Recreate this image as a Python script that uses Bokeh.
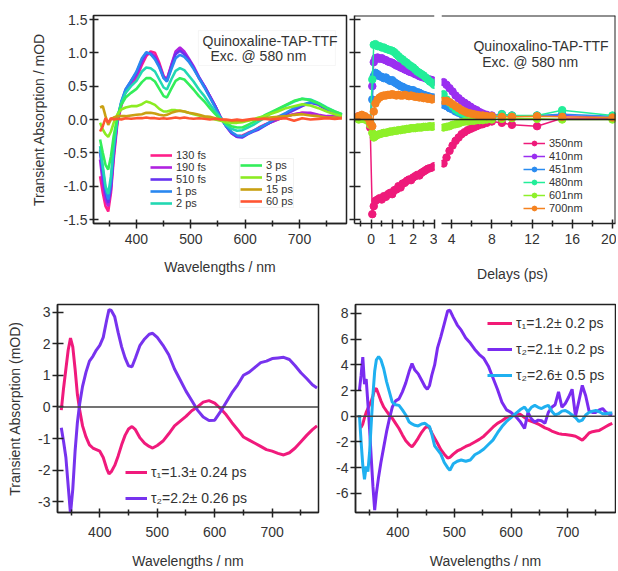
import numpy as np
from bokeh.plotting import figure
from bokeh.layouts import column, row
from bokeh.models import (Range1d, FixedTicker, Span, Label, Legend, LegendItem,
                          PrintfTickFormatter, BoxAnnotation)
from bokeh.embed import file_html
from bokeh.resources import INLINE

FONT = "Liberation Sans"
TXT = "#333333"
AX = "#222222"

# ------------------------------------------------------------------ data
# Panel A: transient spectra (mOD) at several delays
wl_a = [333, 338, 343, 348, 353, 358, 365, 372, 380, 390, 400, 410, 418, 426, 434, 442, 450, 456,
        464, 472, 480, 488, 496, 505, 515, 525, 535, 545, 555, 565, 575, 585, 595, 605, 615, 625,
        635, 645, 660, 675, 690, 705, 720, 735, 750, 765, 778]
s130fs = [-0.85, -1.1, -1.3, -1.38, -1.1, -0.6, -0.05, 0.2, 0.42, 0.52, 0.62, 0.82, 0.95, 1.02, 1.0,
          0.85, 0.65, 0.6, 0.8, 1.0, 1.06, 1.0, 0.9, 0.78, 0.62, 0.5, 0.35, 0.2, 0.03, -0.1, -0.2,
          -0.25, -0.24, -0.2, -0.17, -0.12, -0.08, -0.05, 0.0, 0.05, 0.08, 0.1, 0.09, 0.06, 0.03, 0.05, 0.05]
s190fs = [-0.6, -0.95, -1.2, -1.3, -1.05, -0.55, 0.0, 0.22, 0.42, 0.55, 0.66, 0.86, 0.98, 1.0, 0.95,
          0.82, 0.64, 0.6, 0.82, 1.02, 1.08, 1.02, 0.92, 0.8, 0.64, 0.5, 0.35, 0.2, 0.03, -0.1, -0.21,
          -0.26, -0.26, -0.21, -0.17, -0.13, -0.09, -0.05, 0.0, 0.05, 0.08, 0.1, 0.1, 0.07, 0.05, 0.05, 0.05]
s510fs = [-0.5, -0.8, -1.1, -1.25, -1.0, -0.5, 0.0, 0.25, 0.45, 0.58, 0.7, 0.9, 1.0, 0.98, 0.92,
          0.8, 0.63, 0.58, 0.78, 0.98, 1.03, 0.98, 0.9, 0.78, 0.63, 0.5, 0.35, 0.2, 0.03, -0.1, -0.2,
          -0.26, -0.27, -0.22, -0.18, -0.15, -0.1, -0.05, 0.02, 0.08, 0.14, 0.2, 0.25, 0.22, 0.15, 0.1, 0.06]
s1ps = [-0.45, -0.75, -1.05, -1.2, -0.95, -0.45, 0.02, 0.27, 0.45, 0.58, 0.72, 0.92, 1.01, 0.98, 0.9,
        0.78, 0.62, 0.57, 0.75, 0.92, 0.97, 0.94, 0.87, 0.76, 0.62, 0.48, 0.33, 0.18, 0.02, -0.1, -0.19,
        -0.24, -0.25, -0.21, -0.17, -0.13, -0.09, -0.04, 0.04, 0.1, 0.17, 0.22, 0.26, 0.24, 0.17, 0.11, 0.07]
s2ps = [-0.4, -0.7, -1.0, -1.12, -0.85, -0.4, 0.02, 0.25, 0.4, 0.5, 0.58, 0.72, 0.78, 0.77, 0.72,
        0.6, 0.48, 0.45, 0.6, 0.73, 0.77, 0.74, 0.66, 0.57, 0.45, 0.35, 0.23, 0.12, 0.02, -0.08, -0.14,
        -0.17, -0.16, -0.12, -0.08, -0.03, 0.02, 0.08, 0.15, 0.21, 0.27, 0.31, 0.3, 0.25, 0.18, 0.12, 0.08]
s3ps = [-0.3, -0.5, -0.68, -0.75, -0.55, -0.25, 0.05, 0.22, 0.33, 0.4, 0.46, 0.56, 0.62, 0.62, 0.57,
        0.46, 0.35, 0.33, 0.46, 0.58, 0.62, 0.6, 0.53, 0.45, 0.35, 0.27, 0.17, 0.08, 0.0, -0.06, -0.1,
        -0.12, -0.12, -0.08, -0.04, 0.01, 0.06, 0.1, 0.16, 0.22, 0.28, 0.31, 0.29, 0.24, 0.17, 0.12, 0.08]
s5ps = [-0.05, -0.15, -0.22, -0.26, -0.18, -0.05, 0.08, 0.15, 0.18, 0.2, 0.2, 0.23, 0.27, 0.25, 0.22,
        0.16, 0.12, 0.12, 0.14, 0.14, 0.13, 0.12, 0.1, 0.08, 0.06, 0.04, 0.02, 0.0, -0.02, -0.04, -0.05,
        -0.05, -0.04, -0.02, 0.0, 0.03, 0.05, 0.08, 0.12, 0.17, 0.2, 0.23, 0.21, 0.17, 0.12, 0.08, 0.05]
s15ps = [0.18, 0.2, 0.05, -0.08, 0.0, 0.03, 0.05, 0.05, 0.05, 0.06, 0.07, 0.08, 0.1, 0.1, 0.09,
         0.07, 0.06, 0.07, 0.1, 0.12, 0.13, 0.12, 0.1, 0.09, 0.07, 0.05, 0.04, 0.02, 0.0, -0.01, -0.02,
         -0.02, -0.02, -0.01, 0.0, 0.01, 0.02, 0.03, 0.04, 0.05, 0.07, 0.08, 0.06, 0.05, 0.03, 0.03, 0.02]
s60ps = [-0.18, -0.1, 0.02, -0.05, 0.02, 0.0, 0.01, 0.0, 0.02, 0.01, 0.02, 0.02, 0.03, 0.02, 0.02,
         0.01, 0.02, 0.01, 0.02, 0.03, 0.02, 0.03, 0.02, 0.01, 0.02, 0.01, 0.0, 0.01, 0.0, 0.0, -0.01,
         0.0, -0.01, 0.0, 0.01, 0.0, 0.01, 0.0, 0.01, 0.02, -0.02, 0.02, 0.0, 0.01, 0.02, 0.01, 0.02]
labels_a = ["130 fs", "190 fs", "510 fs", "1 ps", "2 ps", "3 ps", "5 ps", "15 ps", "60 ps"]
colors_a = ["#ff1f8a", "#b022e0", "#6633f0", "#2a88f0", "#22d8b2", "#33ee5a", "#8cec22", "#c9a012", "#ff5533"]

# Panel B: kinetics (broken time axis)
delay_ps = [-0.6, -0.45, -0.3, -0.15, -0.05, 0.05, 0.12, 0.2, 0.3, 0.4, 0.5, 0.6, 0.7, 0.8, 0.9, 1.0,
            1.1, 1.2, 1.3, 1.4, 1.5, 1.6, 1.7, 1.8, 1.9, 2.0, 2.1, 2.2, 2.3, 2.4, 2.5, 2.6, 2.7, 2.8,
            2.9, 3.0,
            3.2, 3.5, 3.8, 4.1, 4.4, 4.7, 5.0, 5.3, 5.6, 5.9, 6.2, 6.5, 6.8, 7.1, 7.5, 8.0, 9.0, 10.0,
            12.5, 15.0, 20.0]
k350 = [0.05, 0.06, 0.04, 0.0, -0.12, -1.42, -1.3, -1.22, -1.2, -1.18, -1.2, -1.15, -1.16, -1.12, -1.1,
        -1.12, -1.06, -1.05, -1.0, -1.02, -0.96, -0.95, -0.92, -0.9, -0.91, -0.87, -0.85, -0.83, -0.84,
        -0.8, -0.78, -0.76, -0.74, -0.73, -0.72, -0.7,
        -0.66, -0.57, -0.47, -0.39, -0.32, -0.27, -0.22, -0.19, -0.16, -0.14, -0.12, -0.1, -0.08, -0.07,
        -0.05, -0.03, -0.05, -0.08, -0.1, 0.02, 0.02]
k410 = [0.03, 0.02, 0.02, 0.0, -0.05, 0.5, 0.86, 0.92, 0.93, 0.91, 0.92, 0.9, 0.89, 0.87, 0.86, 0.85,
        0.83, 0.81, 0.8, 0.78, 0.77, 0.75, 0.74, 0.72, 0.71, 0.7, 0.68, 0.67, 0.65, 0.64, 0.63, 0.62,
        0.6, 0.6, 0.59, 0.58,
        0.56, 0.52, 0.47, 0.42, 0.36, 0.32, 0.28, 0.25, 0.22, 0.19, 0.16, 0.14, 0.11, 0.09, 0.07, 0.06,
        0.08, 0.06, 0.05, 0.06, 0.03]
k451 = [0.02, 0.03, 0.01, -0.02, -0.06, 0.3, 0.65, 0.7, 0.68, 0.65, 0.64, 0.62, 0.63, 0.6, 0.58, 0.59,
        0.56, 0.54, 0.52, 0.5, 0.49, 0.47, 0.46, 0.45, 0.44, 0.44, 0.42, 0.41, 0.4, 0.38, 0.37, 0.36,
        0.35, 0.34, 0.33, 0.33,
        0.22, 0.2, 0.17, 0.15, 0.12, 0.1, 0.08, 0.06, 0.05, 0.04, 0.03, 0.02, 0.02, 0.02, 0.02, 0.03,
        0.05, 0.05, 0.06, 0.08, 0.05]
k480 = [0.03, 0.02, 0.03, 0.0, -0.04, 0.6, 1.12, 1.13, 1.1, 1.1, 1.08, 1.08, 1.06, 1.05, 1.04, 1.03,
        1.01, 0.98, 0.95, 0.92, 0.9, 0.87, 0.85, 0.82, 0.8, 0.78, 0.75, 0.72, 0.7, 0.68, 0.66, 0.63,
        0.6, 0.57, 0.55, 0.52,
        0.38, 0.3, 0.25, 0.2, 0.15, 0.12, 0.1, 0.08, 0.07, 0.06, 0.05, 0.04, 0.04, 0.03, 0.03, 0.04,
        0.08, 0.06, 0.06, 0.14, 0.06]
k601 = [0.0, 0.01, 0.0, -0.02, -0.08, -0.2, -0.27, -0.25, -0.23, -0.22, -0.21, -0.2, -0.2, -0.19,
        -0.18, -0.18, -0.17, -0.17, -0.16, -0.16, -0.15, -0.15, -0.14, -0.14, -0.13, -0.13, -0.13,
        -0.12, -0.12, -0.12, -0.11, -0.11, -0.11, -0.1, -0.11, -0.1,
        -0.12, -0.11, -0.1, -0.08, -0.07, -0.06, -0.04, -0.03, -0.03, -0.02, -0.02, -0.01, -0.01, -0.01,
        0.0, 0.0, 0.01, 0.02, 0.01, 0.0, 0.0]
k700 = [0.05, 0.07, 0.05, 0.02, -0.05, -0.1, 0.12, 0.24, 0.3, 0.33, 0.35, 0.36, 0.36, 0.37, 0.37, 0.38,
        0.37, 0.36, 0.37, 0.36, 0.36, 0.37, 0.36, 0.35, 0.36, 0.35, 0.34, 0.34, 0.33, 0.34, 0.32, 0.33,
        0.31, 0.32, 0.3, 0.31,
        0.28, 0.28, 0.26, 0.23, 0.2, 0.17, 0.14, 0.12, 0.1, 0.09, 0.08, 0.07, 0.06, 0.06, 0.05, 0.05,
        0.04, 0.04, 0.05, 0.04, 0.03]
labels_b = ["350nm", "410nm", "451nm", "480nm", "601nm", "700nm"]
colors_b = ["#ee1a7a", "#9a2ff0", "#2a8cf0", "#22ee99", "#8ef02a", "#f5821f"]

# Panel C: decay-associated spectra (quinoxaline)
wl_c = [333, 337, 341, 345, 349, 353, 357, 361, 365, 370, 376, 382, 388, 394, 400, 406, 412, 416, 420,
        426, 432, 438, 444, 450, 456, 462, 470, 478, 486, 492, 500, 510, 520, 530, 540, 550, 560, 570,
        580, 590, 600, 610, 620, 630, 640, 650, 660, 670, 680, 690, 700, 710, 720, 730, 740, 750, 760,
        770, 778]
tau1_c = [-0.1, 0.6, 1.2, 1.8, 2.18, 1.9, 1.2, 0.4, -0.1, -0.6, -0.95, -1.2, -1.3, -1.35, -1.4, -1.6,
          -1.95, -2.12, -2.05, -1.85, -1.55, -1.2, -0.9, -0.7, -0.62, -0.72, -0.98, -1.15, -1.25, -1.3,
          -1.22, -1.08, -0.85, -0.6, -0.45, -0.3, -0.12, 0.0, 0.15, 0.2, 0.12, -0.05, -0.25, -0.5,
          -0.72, -0.95, -1.05, -1.15, -1.25, -1.35, -1.4, -1.47, -1.52, -1.45, -1.3, -1.1, -0.9, -0.72,
          -0.6]
tau2_c = [-0.66, -1.1, -1.6, -2.5, -3.38, -2.6, -1.4, -0.5, 0.1, 0.65, 1.1, 1.45, 1.6, 1.8, 1.95, 2.2,
          2.75, 3.08, 3.05, 2.85, 2.35, 1.9, 1.55, 1.3, 1.27, 1.55, 1.95, 2.15, 2.3, 2.33, 2.2, 1.95,
          1.65, 1.2, 0.85, 0.5, 0.2, -0.1, -0.32, -0.43, -0.42, -0.15, 0.15, 0.45, 0.7, 1.0, 1.1, 1.25,
          1.4, 1.45, 1.53, 1.55, 1.57, 1.5, 1.3, 1.08, 0.9, 0.7, 0.6]
labels_c = ["τ₁=1.3± 0.24 ps", "τ₂=2.2± 0.26 ps"]

# Panel D: decay-associated spectra (quinoxalino)
wl_d = [332, 335, 338, 341, 344, 347, 350, 353, 356, 359, 362, 366, 370, 375, 380, 385, 390, 396, 402,
        408, 414, 420, 425, 430, 436, 442, 448, 452, 456, 460, 465, 470, 476, 482, 488, 492, 498, 505,
        512, 520, 528, 536, 544, 552, 560, 568, 576, 584, 592, 600, 608, 616, 624, 630, 636, 642, 648,
        654, 660, 666, 672, 678, 684, 690, 696, 702, 708, 714, 720, 726, 732, 738, 744, 750, 756, 762,
        768, 774, 779]
tau1_d = [-0.9, -0.85, -0.6, -0.1, 0.3, 0.6, 0.9, 1.2, 1.6, 2.1, 2.15, 1.7, 1.2, 0.72, 0.4, 0.1, -0.15,
          -0.55, -0.95, -1.45, -1.9, -2.2, -2.38, -2.1, -1.7, -1.25, -0.9, -0.8, -0.9, -1.3, -1.7, -2.1,
          -2.6, -2.95, -3.25, -3.2, -2.95, -2.7, -2.55, -2.35, -2.2, -2.0, -1.8, -1.55, -1.2, -0.85,
          -0.55, -0.35, -0.1, 0.0, 0.15, 0.15, -0.1, -0.3, -0.4, -0.5, -0.6, -0.75, -0.9, -1.0, -1.15,
          -1.25, -1.35, -1.4, -1.42, -1.45, -1.5, -1.55, -1.7, -1.86, -1.6, -1.3, -1.2, -1.15, -1.1,
          -0.95, -0.8, -0.65, -0.55]
tau2_d = [2.0, 3.2, 4.6, 2.5, 2.9, 1.0, -1.0, -3.3, -5.5, -7.3, -6.0, -4.7, -3.6, -2.4, -1.2, -0.2, 0.7,
          1.2, 1.35, 1.9, 2.6, 3.5, 4.1, 3.6, 3.3, 2.8, 2.3, 2.1, 2.4, 3.2, 4.0, 5.3, 6.2, 7.2, 8.2, 8.25,
          7.7, 7.1, 6.7, 6.1, 5.7, 5.2, 4.8, 4.5, 3.9, 3.0, 2.1, 1.1, 0.5, 0.3, 0.0, -0.4, -0.95, 0.3,
          -0.2, -0.45, -0.3, -0.35, -0.55, 0.3, 0.7, 0.9, 1.9, 0.7, 1.0, 1.5, 2.1, 0.0, 1.2, 2.4, 1.6,
          0.4, 0.3, 0.3, 0.5, 0.6, 0.3, 0.15, 0.1]
tau3_d = [0.1, -2.0, -3.8, -4.9, -3.9, -4.3, -2.8, -0.5, 1.7, 3.5, 4.4, 4.65, 4.4, 3.7, 2.7, 1.9, 1.1,
          0.9, 0.85, 0.5, 0.1, -0.45, -0.6, -0.7, -0.75, -0.6, -0.55, -0.7, -0.8, -1.4, -2.3, -2.6,
          -2.95, -3.6, -4.0, -4.2, -3.7, -3.5, -3.4, -3.5, -3.4, -3.0, -2.8, -2.55, -2.2, -1.86, -1.3,
          -0.8, -0.4, -0.1, 0.2, 0.5, 0.72, 0.35, 0.7, 0.85, 0.7, 0.6, 0.75, 0.85, 0.4, 0.1, 0.2, 0.4,
          0.45, 0.3, 0.1, -0.1, -0.4, -0.3, 0.1, 0.3, 0.4, 0.45, 0.35, 0.2, 0.2, 0.25, 0.25]
labels_d = ["τ₁=1.2± 0.2 ps", "τ₂=2.1± 0.2 ps", "τ₂=2.6± 0.5 ps"]

# tick positions
xt_wl = [400, 500, 600, 700]
xt_wl_minor = [350, 450, 550, 650, 750]
yt_a = [-1.5, -1.0, -0.5, 0.0, 0.5, 1.0, 1.5]
xt_b1 = [0, 1, 2, 3]
xt_b1_minor = [-0.5, 0.5, 1.5, 2.5]
xt_b2 = [4, 8, 12, 16, 20]
xt_b2_minor = [6, 10, 14, 18]
yt_c = [-3, -2, -1, 0, 1, 2, 3]
yt_d = [-6, -4, -2, 0, 2, 4, 6, 8]


# ------------------------------------------------------------------ helpers
def mkfig(w, h, xr, yr, ml, mr, mt, mb, yaxis=True, xaxis=True):
    kw = dict(width=w, height=h, x_range=Range1d(*xr), y_range=Range1d(*yr),
              output_backend="svg", toolbar_location=None,
              min_border_left=ml, min_border_right=mr, min_border_top=mt, min_border_bottom=mb)
    if not yaxis:
        kw["y_axis_location"] = None
    if not xaxis:
        kw["x_axis_location"] = None
    p = figure(**kw)
    p.grid.visible = False
    p.outline_line_color = AX
    p.outline_line_width = 1.5
    p.background_fill_color = "white"
    p.border_fill_color = "white"
    return p


def style_axis(ax, ticks, minor=None, fmt=None, tin=5, tout=5, size="14px", standoff=4):
    ax.ticker = FixedTicker(ticks=ticks, minor_ticks=minor or [])
    ax.axis_line_color = AX
    ax.axis_line_width = 1.5
    ax.major_tick_line_color = AX
    ax.major_tick_line_width = 1.5
    ax.major_tick_in = tin
    ax.major_tick_out = tout
    if minor:
        ax.minor_tick_line_color = AX
        ax.minor_tick_line_width = 1.5
        ax.minor_tick_in = 3
        ax.minor_tick_out = 3
    else:
        ax.minor_tick_line_color = None
    if fmt:
        ax.formatter = PrintfTickFormatter(format=fmt)
    ax.major_label_text_font = FONT
    ax.major_label_text_font_size = size
    ax.major_label_text_color = TXT
    ax.major_label_standoff = standoff
    ax.axis_label_text_font = FONT
    ax.axis_label_text_font_size = "14px"
    ax.axis_label_text_font_style = "normal"
    ax.axis_label_text_color = TXT


def mklegend(items, loc, fs, gw, gh, spacing):
    return Legend(items=items, location=loc, label_text_font=FONT, label_text_font_size=fs,
                  label_text_color=TXT, glyph_width=gw, glyph_height=gh, label_height=gh,
                  label_standoff=4, spacing=spacing, padding=0, margin=0,
                  border_line_color=None, background_fill_alpha=0)


# ------------------------------------------------------------------ panel A
yr_ab = (-1.56, 1.56)
pA = mkfig(349, 282, (320.9, 786.5), yr_ab, 93, 3, 15, 59)
style_axis(pA.xaxis[0], xt_wl, xt_wl_minor, "%d", tin=4, tout=5, standoff=5)
style_axis(pA.yaxis[0], yt_a, None, "%.1f", tin=5, tout=4, standoff=2)
pA.xaxis.axis_label = "Wavelengths / nm"
pA.xaxis.axis_label_standoff = 12
pA.yaxis.axis_label = "Transient Absorption / mOD"
pA.yaxis.axis_label_standoff = 13

series_a = [s130fs, s190fs, s510fs, s1ps, s2ps, s3ps, s5ps, s15ps, s60ps]
rend_a = []
for ys, c in zip(series_a, colors_a):
    rend_a.append(pA.line(wl_a, ys, line_color=c, line_width=2.6))

pA.add_layout(BoxAnnotation(left=514, right=766, bottom=0.81, top=1.334, fill_color="white",
                            fill_alpha=1, line_color="#e2e2e2", line_width=1, level="underlay"))
pA.add_layout(Label(x=521.5, y=1.18, text="Quinoxaline-TAP-TTF", text_font=FONT, text_font_size="14px",
                    text_color=TXT, text_baseline="middle", text_align="left"))
pA.add_layout(Label(x=536, y=0.96, text="Exc. @ 580 nm", text_font=FONT, text_font_size="14px",
                    text_color=TXT, text_baseline="middle", text_align="left"))

legA1 = mklegend([LegendItem(label=l, renderers=[r]) for l, r in zip(labels_a[:5], rend_a[:5])],
                 (57, 14), "11px", 22, 12, 0)
legA2 = mklegend([LegendItem(label=l, renderers=[r]) for l, r in zip(labels_a[5:], rend_a[5:])],
                 (146, 15), "11px", 22, 12, 0)
legA2.border_line_color = "#e6e6e6"
pA.add_layout(legA1)
pA.add_layout(legA2)

# ------------------------------------------------------------------ panel B (broken axis)
t = np.array(delay_ps)
m1 = t <= 3.05
m2 = ~m1

pB1 = mkfig(88, 254, (-0.8, 3.02), yr_ab, 5, 3, 15, 31)
pB1.outline_line_color = None
style_axis(pB1.xaxis[0], xt_b1, xt_b1_minor, "%d", tin=4, tout=5, standoff=5)
style_axis(pB1.yaxis[0], yt_a, None, None, tin=6, tout=5, standoff=0)
pB1.yaxis[0].major_label_overrides = {v: "" for v in yt_a}

xr_b2 = (3.0, 20.3)
pB2 = mkfig(179, 254, xr_b2, yr_ab, 4, 1, 15, 31, yaxis=False)
pB2.outline_line_color = None
style_axis(pB2.xaxis[0], xt_b2, xt_b2_minor, "%d", tin=4, tout=5, standoff=5)

for pp in (pB1, pB2):
    pp.add_layout(Span(location=0, dimension="width", line_color=AX, line_width=1.5))
    pp.add_layout(Span(location=yr_ab[1], dimension="width", line_color=AX, line_width=2))
pB2.add_layout(Span(location=xr_b2[1], dimension="height", line_color=AX, line_width=2))

items_b = []
for lab, ys, c in zip(labels_b, [k350, k410, k451, k480, k601, k700], colors_b):
    v = np.array(ys)
    pB1.line(t[m1], v[m1], line_color=c, line_width=1.5)
    pB1.scatter(t[m1], v[m1], size=7.5, fill_color=c, line_color=c)
    rl = pB2.line(t[m2], v[m2], line_color=c, line_width=1.5)
    rs = pB2.scatter(t[m2], v[m2], size=7.5, fill_color=c, line_color=c)
    items_b.append(LegendItem(label=lab, renderers=[rl, rs]))

pB2.add_layout(mklegend(items_b, (82, 9), "11px", 22, 12, 1))
pB2.add_layout(Label(x=6.18, y=1.11, text="Quinoxalino-TAP-TTF", text_font=FONT, text_font_size="14px",
                     text_color=TXT, text_baseline="middle", text_align="left"))
pB2.add_layout(Label(x=7.05, y=0.86, text="Exc. @ 580 nm", text_font=FONT, text_font_size="14px",
                     text_color=TXT, text_baseline="middle", text_align="left"))

# shared axis title of the broken time axis (strip below both halves, page-pixel coordinates)
pLab = mkfig(267, 28, (349, 616), (282, 254), 0, 0, 0, 0, yaxis=False, xaxis=False)
pLab.outline_line_color = None
pLab.add_layout(Label(x=512, y=273, text="Delays (ps)", text_font=FONT, text_font_size="14px",
                      text_color=TXT, text_baseline="middle", text_align="center"))

# ------------------------------------------------------------------ panel C
pC = mkfig(333, 289, (326.4, 780.6), (-3.34, 3.24), 57, 15, 22, 58)
style_axis(pC.xaxis[0], xt_wl, xt_wl_minor, "%d", tin=4, tout=5, standoff=9)
style_axis(pC.yaxis[0], yt_c, None, "%d", tin=6, tout=5, standoff=2)
pC.xaxis.axis_label = "Wavelengths / nm"
pC.xaxis.axis_label_standoff = 13
pC.yaxis.axis_label = "Transient Absorption (mOD)"
pC.yaxis.axis_label_standoff = 12
pC.add_layout(Span(location=0, dimension="width", line_color="#444444", line_width=1.5))
rc1 = pC.line(wl_c, tau1_c, line_color="#f01a7c", line_width=3)
rc2 = pC.line(wl_c, tau2_c, line_color="#7733ee", line_width=3)
pC.add_layout(mklegend([LegendItem(label=labels_c[0], renderers=[rc1]),
                        LegendItem(label=labels_c[1], renderers=[rc2])],
                       (68, 6), "14px", 22, 16, 10))

# ------------------------------------------------------------------ panel D
pD = mkfig(283, 289, (325.1, 784.7), (-7.49, 8.7), 20, 1, 22, 58)
style_axis(pD.xaxis[0], xt_wl, xt_wl_minor, "%d", tin=4, tout=5, standoff=9)
style_axis(pD.yaxis[0], yt_d, None, "%d", tin=6, tout=5, standoff=2)
pD.xaxis.axis_label = "Wavelengths / nm"
pD.xaxis.axis_label_standoff = 13
pD.add_layout(Span(location=0, dimension="width", line_color="#444444", line_width=1.5))
rd1 = pD.line(wl_d, tau1_d, line_color="#f21a76", line_width=3)
rd2 = pD.line(wl_d, tau2_d, line_color="#7a2cf0", line_width=3)
rd3 = pD.line(wl_d, tau3_d, line_color="#1fb0f0", line_width=3)
pD.add_layout(mklegend([LegendItem(label=labels_d[0], renderers=[rd1]),
                        LegendItem(label=labels_d[1], renderers=[rd2]),
                        LegendItem(label=labels_d[2], renderers=[rd3])],
                       (132, 129), "14px", 25, 16, 10))

layout = column(row(pA, column(row(pB1, pB2), pLab)), row(pC, pD))
open("out.html", "w").write(file_html(layout, INLINE))
